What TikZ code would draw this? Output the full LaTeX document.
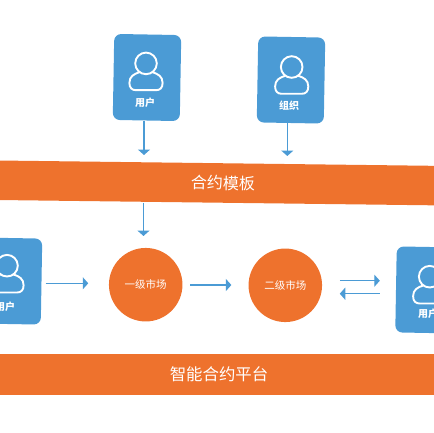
\documentclass[tikz,border=0pt]{standalone}
\usepackage{fontspec}
\newfontfamily\cjk{Noto Sans CJK SC}
\usetikzlibrary{arrows.meta}
\definecolor{cardblue}{HTML}{4B9BD5}
\definecolor{bandorange}{HTML}{EE722D}
\tikzset{
  cardbox/.style={fill=cardblue,rounded corners=7pt,minimum width=67pt,minimum height=86pt,rotate=-1,inner sep=0pt},
  bandbox/.style={fill=bandorange,minimum width=520pt,inner sep=0pt,text=white,font=\cjk\fontsize{16}{16}\selectfont},
  roundbox/.style={circle,fill=bandorange,minimum size=73.5pt,inner sep=0pt,text=white,font=\cjk\fontsize{10.5}{10.5}\selectfont},
  cardtext/.style={text=white,inner sep=0pt,font=\cjk\bfseries\fontsize{10}{10}\selectfont},
  flowline/.style={draw=cardblue,line width=1.4pt,-{Triangle[width=12pt,length=5.5pt]}},
  iconline/.style={draw=white,line width=1.9pt},
  personicon/.pic={
    \draw[iconline] (0,0) circle (10.8);
    \draw[iconline] (-6.5,8.8) .. controls (-12,10.5) and (-16.6,13) .. (-16.6,19.5)
      .. controls (-16.6,24.5) and (-14,26.8) .. (-10,26.8) -- (10,26.8)
      .. controls (14,26.8) and (16.6,24.5) .. (16.6,19.5)
      .. controls (16.6,13) and (12,10.5) .. (6.5,8.8);
  }
}
\begin{document}
\begin{tikzpicture}[x=1pt,y=-1pt]
  \useasboundingbox (0,0) rectangle (433,433);
  % cards
  \node[cardbox] (usrA) at (147,77.5) {};
  \node[cardbox] (orgA) at (291,80) {};
  \node[cardbox] (usrL) at (8,281) {};
  \node[cardbox] (usrR) at (429.5,290) {};
  \pic at (146,63.4) {personicon};
  \pic at (291.7,67) {personicon};
  \pic at (7,265.7) {personicon};
  \pic at (429.7,276.7) {personicon};
  \node[cardtext] (usrAtext) at (145,103) {用户};
  \node[cardtext] (orgAtext) at (289,106) {组织};
  \node[cardtext] (usrLtext) at (5,307) {用户};
  \node[cardtext] (usrRtext) at (428,314) {用户};
  % bands
  \node[bandbox,minimum height=39.5pt,rotate=-0.7] (tmpl) at (223,183) {合约模板};
  \node[bandbox,minimum height=41pt,font=\cjk\fontsize{16.4}{16.4}\selectfont] (pltf) at (219,374.5) {智能合约平台};
  % markets
  \node[roundbox] (lvlA) at (145.7,284.7) {一级市场};
  \node[roundbox] (lvlB) at (285.3,285.3) {二级市场};
  % free ends
  \coordinate (usrAend) at (144,155);
  \coordinate (orgAend) at (287.3,156);
  \coordinate (tmplend) at (143.5,236);
  % arrows
  \draw[flowline] (usrA.south -| usrAend) -- (usrAend);
  \draw[flowline] (orgA.south -| orgAend) -- (orgAend);
  \draw[flowline] (tmpl.south -| tmplend) -- (tmplend);
  \draw[flowline,shorten <=4pt,shorten >=20.5pt] (usrL.east |- 0,283.3) -- (lvlA.west |- 0,283.3);
  \draw[flowline,shorten <=7.5pt,shorten >=17pt] (lvlA.east |- 0,285) -- (lvlB.west |- 0,285);
  \draw[flowline,shorten <=17.5pt,shorten >=16pt] (lvlB.east |- 0,280.7) -- (usrR.west |- 0,280.7);
  \draw[flowline,shorten <=16pt,shorten >=17.5pt] (usrR.west |- 0,293.7) -- (lvlB.east |- 0,293.7);
\end{tikzpicture}
\end{document}
